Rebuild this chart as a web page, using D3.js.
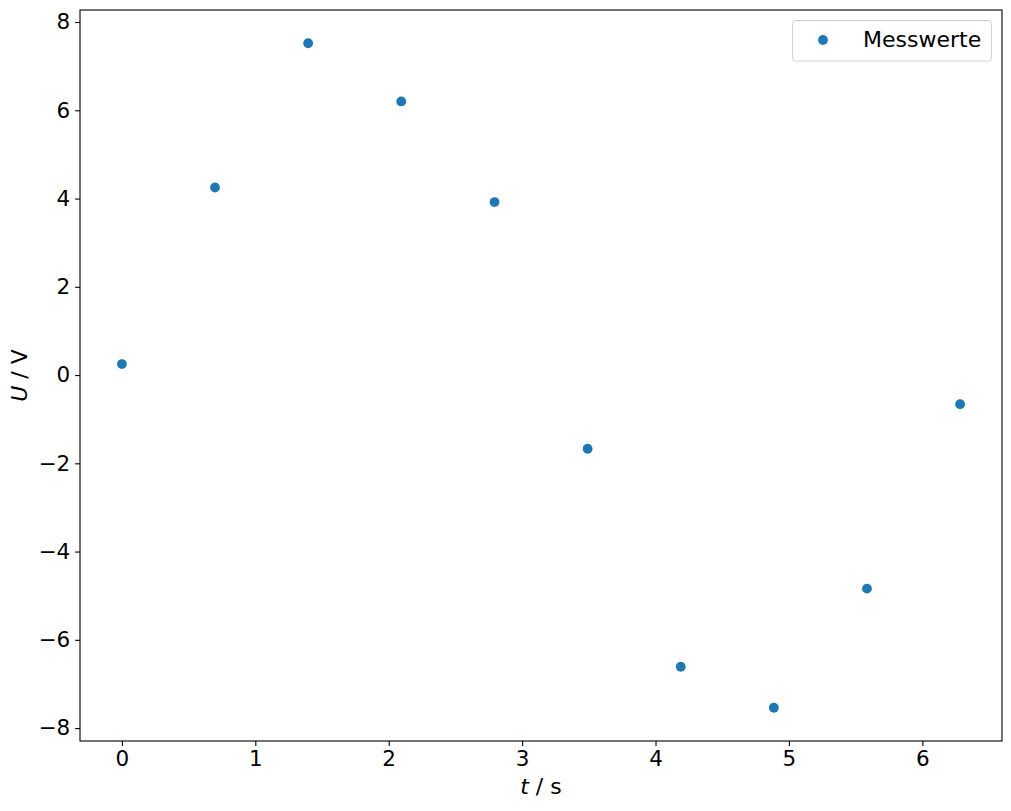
<!DOCTYPE html>
<html><head><meta charset="utf-8">
<script src="https://cdn.jsdelivr.net/npm/d3@7"></script>
<style>body{margin:0;background:#fff;} text{font-family:"DejaVu Sans",sans-serif;}</style>
</head><body>
<svg id="c" width="1011" height="811"></svg>
<script>
const tValues = [0, 0.698, 1.396, 2.094, 2.793, 3.491, 4.189, 4.887, 5.585, 6.283];
const uValues = [0.25, 4.25, 7.52, 6.2, 3.92, -1.67, -6.61, -7.54, -4.84, -0.66];
const xTicks = [0, 1, 2, 3, 4, 5, 6];
const yTicks = [-8, -6, -4, -2, 0, 2, 4, 6, 8];
const seriesName = "Messwerte";

const W = 1011, H = 811;
const m = {left: 80, right: 1002, top: 10, bottom: 741};
const svg = d3.select("#c");
const fs = 21.5;
const lfs = 22;

const xPad = (d3.max(tValues) - d3.min(tValues)) * 0.05;
const yPad = (d3.max(uValues) - d3.min(uValues)) * 0.05;
const x = d3.scaleLinear().domain([d3.min(tValues) - xPad, d3.max(tValues) + xPad]).range([m.left, m.right]);
const y = d3.scaleLinear().domain([d3.min(uValues) - yPad, d3.max(uValues) + yPad]).range([m.bottom, m.top]);

const fmt = d => d < 0 ? "\u2212" + Math.abs(d) : String(d);

const gx = svg.append("g").attr("transform", `translate(0,${m.bottom})`)
  .call(d3.axisBottom(x).tickValues(xTicks).tickFormat(fmt).tickSize(4.9).tickPadding(4.9));
const gy = svg.append("g").attr("transform", `translate(${m.left},0)`)
  .call(d3.axisLeft(y).tickValues(yTicks).tickFormat(fmt).tickSize(4.9).tickPadding(4.9));
[gx, gy].forEach(g => {
  g.select(".domain").remove();
  g.selectAll(".tick line").attr("stroke", "#000").attr("stroke-width", 1.1);
  g.selectAll(".tick text").attr("fill", "#000").style("font-size", fs + "px").style("font-family", "DejaVu Sans");
});

svg.append("rect").attr("x", m.left).attr("y", m.top)
  .attr("width", m.right - m.left).attr("height", m.bottom - m.top)
  .attr("fill", "none").attr("stroke", "#000").attr("stroke-width", 1.1);

svg.append("g").selectAll("circle").data(tValues.map((t, i) => [t, uValues[i]])).join("circle")
  .attr("cx", d => x(d[0])).attr("cy", d => y(d[1])).attr("r", 4.9).attr("fill", "#1f77b4");

// axis labels
const xl = svg.append("text").attr("x", (m.left + m.right) / 2).attr("y", 794)
  .attr("text-anchor", "middle").style("font-size", lfs + "px");
xl.append("tspan").attr("font-style", "italic").text("t");
xl.append("tspan").text(" / s");
const yl = svg.append("text").attr("transform", `translate(27,${(m.top + m.bottom) / 2}) rotate(-90)`)
  .attr("text-anchor", "middle").style("font-size", lfs + "px");
yl.append("tspan").attr("font-style", "italic").text("U");
yl.append("tspan").text(" / V");

// legend
const lg = svg.append("g");
lg.append("rect").attr("x", 792.5).attr("y", 20.5).attr("width", 199).attr("height", 40.5)
  .attr("rx", 3).attr("fill", "#fff").attr("fill-opacity", 0.8).attr("stroke", "#d0d0d0").attr("stroke-width", 1);
lg.append("circle").attr("cx", 823).attr("cy", 40).attr("r", 4.9).attr("fill", "#1f77b4");
lg.append("text").attr("x", 863).attr("y", 47).style("font-size", lfs + "px").text(seriesName);
</script>
</body></html>
